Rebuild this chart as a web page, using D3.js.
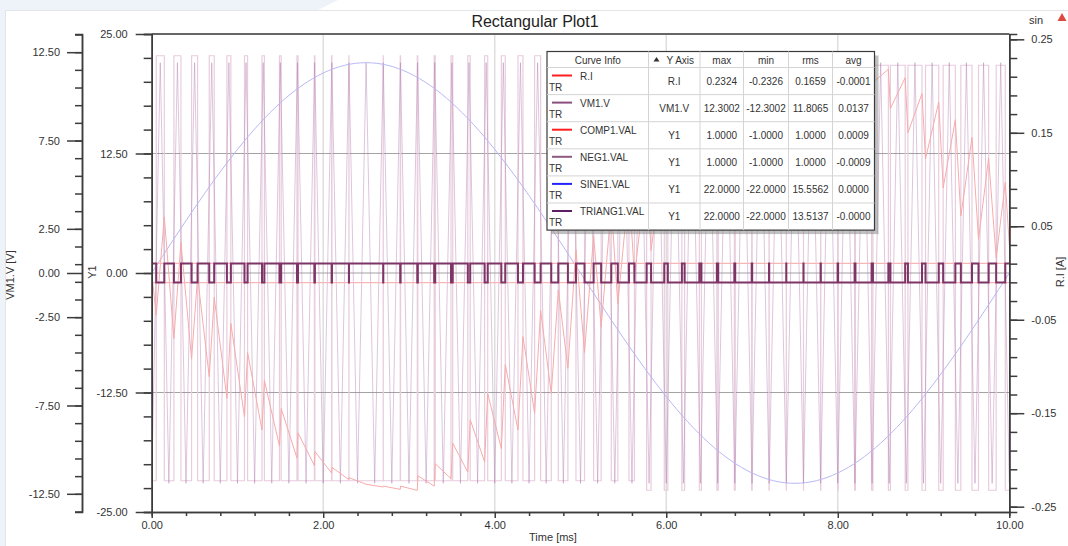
<!DOCTYPE html>
<html>
<head>
<meta charset="utf-8">
<script src="https://cdn.jsdelivr.net/npm/d3@7"></script>
<style>
  html, body { margin: 0; padding: 0; background: #fff; }
  svg { display: block; font-family: 'Liberation Sans', Arial, sans-serif; }
</style>
</head>
<body>
<script>
// config
const config = {
  width: 1068,
  height: 546,
  left: 151.7, // x of 0.00 ms, also the Y1 axis
  right: 1009.3, // x of 10.00 ms, also the R.I axis
  top: 34,
  bottom: 512,
  vmAxisX: 82,
  axisColor: '#3c3c3c',
  textColor: '#333',
  vmColor: '#e8cddd',
  triColor: '#ad78ad',
  sineColor: '#b8b8f5',
  riColor: '#f8abab',
  compColor: '#f6b6b6',
  negColor: '#7e3466',
  legendFont: '10px',
};

// time axis (ms)
const xMajor = [0, 2, 4, 6, 8, 10];
const xMinor = [0.4, 0.8, 1.2, 1.6, 2.4, 2.8, 3.2, 3.6, 4.4, 4.8, 5.2, 5.6, 6.4, 6.8, 7.2, 7.6, 8.4, 8.8, 9.2, 9.6];

// tick labels of the three y axes
const vmMajor = [12.5, 7.5, 2.5, 0, -2.5, -7.5, -12.5];
const y1Major = [25, 12.5, 0, -12.5, -25];
const riMajor = [0.25, 0.15, 0.05, -0.05, -0.15, -0.25];

// SINE1.VAL read every 0.5 ms
const sineTimes = [0, 0.5, 1, 1.5, 2, 2.5, 3, 3.5, 4, 4.5, 5, 5.5, 6, 6.5, 7, 7.5, 8, 8.5, 9, 9.5, 10];
const sineValues = [0, 6.80, 12.93, 17.80, 20.92, 22.00, 20.92, 17.80, 12.93, 6.80, 0, -6.80, -12.93, -17.80, -20.92, -22.00, -20.92, -17.80, -12.93, -6.80, 0];

// TRIANG1.VAL corners
const triangTimes = [0, 0.1, 0.2, 0.3, 0.4, 0.5, 0.6, 0.7, 0.8, 0.9, 1, 1.1, 1.2, 1.3, 1.4, 1.5, 1.6, 1.7, 1.8, 1.9,
  2, 2.1, 2.2, 2.3, 2.4, 2.5, 2.6, 2.7, 2.8, 2.9, 3, 3.1, 3.2, 3.3, 3.4, 3.5, 3.6, 3.7, 3.8, 3.9,
  4, 4.1, 4.2, 4.3, 4.4, 4.5, 4.6, 4.7, 4.8, 4.9, 5, 5.1, 5.2, 5.3, 5.4, 5.5, 5.6, 5.7, 5.8, 5.9,
  6, 6.1, 6.2, 6.3, 6.4, 6.5, 6.6, 6.7, 6.8, 6.9, 7, 7.1, 7.2, 7.3, 7.4, 7.5, 7.6, 7.7, 7.8, 7.9,
  8, 8.1, 8.2, 8.3, 8.4, 8.5, 8.6, 8.7, 8.8, 8.9, 9, 9.1, 9.2, 9.3, 9.4, 9.5, 9.6, 9.7, 9.8, 9.9, 10];
const triangValues = [-22, 22, -22, 22, -22, 22, -22, 22, -22, 22, -22, 22, -22, 22, -22, 22, -22, 22, -22, 22,
  -22, 22, -22, 22, -22, 22, -22, 22, -22, 22, -22, 22, -22, 22, -22, 22, -22, 22, -22, 22,
  -22, 22, -22, 22, -22, 22, -22, 22, -22, 22, -22, 22, -22, 22, -22, 22, -22, 22, -22, 22,
  -22, 22, -22, 22, -22, 22, -22, 22, -22, 22, -22, 22, -22, 22, -22, 22, -22, 22, -22, 22,
  -22, 22, -22, 22, -22, 22, -22, 22, -22, 22, -22, 22, -22, 22, -22, 22, -22, 22, -22, 22, -22];

// switching instants (ms) of the bridge: VM1.V goes high at pwmRise, low at pwmFall
const pwmRise = [0.053, 0.259, 0.465, 0.671, 0.877, 1.082, 1.286, 1.490, 1.694, 1.897, 2.098, 2.2995, 2.5, 2.6995, 2.898,
  3.097, 3.294, 3.490, 3.686, 3.882, 4.077, 4.271, 4.465, 4.659, 4.853, 5.047, 5.241, 5.435, 5.629, 5.823,
  6.018, 6.214, 6.410, 6.606, 6.804, 7.002, 7.2005, 7.4, 7.6005, 7.802, 8.004, 8.206, 8.410, 8.614, 8.818,
  9.023, 9.229, 9.435, 9.641, 9.847];
const pwmFall = [0.147, 0.341, 0.535, 0.729, 0.923, 1.118, 1.314, 1.510, 1.706, 1.903, 2.102, 2.3005, 2.5, 2.7005, 2.902,
  3.103, 3.306, 3.510, 3.714, 3.918, 4.123, 4.329, 4.535, 4.741, 4.947, 5.153, 5.359, 5.565, 5.771, 5.977,
  6.182, 6.386, 6.590, 6.794, 6.996, 7.198, 7.3995, 7.6, 7.7995, 7.998, 8.196, 8.394, 8.590, 8.786, 8.982,
  9.177, 9.371, 9.565, 9.759, 9.953];

// VM1.V level during each high pulse, and during each low stretch (one before every pulse, one after the last)
const vmHigh = [12.30, 12.30, 12.30, 12.30, 12.30, 12.30, 12.30, 12.30, 12.30, 12.30, 12.30, 12.30, 12.30, 12.30, 12.30,
  12.30, 12.30, 12.30, 12.30, 12.30, 12.30, 12.30, 12.30, 12.30, 12.30, 12.30, 12.30, 12.30, 11.76, 11.76,
  11.76, 11.76, 11.76, 11.76, 11.76, 11.76, 11.76, 11.76, 11.76, 11.76, 11.76, 11.76, 11.76, 11.76, 11.76,
  11.76, 11.76, 11.76, 11.76, 11.76];
const vmLow = [-11.76, -11.76, -11.76, -11.76, -11.76, -11.76, -11.76, -11.76, -11.76, -11.76, -11.76, -11.76, -11.76,
  -11.76, -11.76, -11.76, -11.76, -11.76, -11.76, -11.76, -11.76, -11.76, -11.76, -11.76, -11.76, -11.76,
  -11.76, -11.76, -11.76, -12.30, -12.30, -12.30, -12.30, -12.30, -12.30, -12.30, -12.30, -12.30, -12.30,
  -12.30, -12.30, -12.30, -12.30, -12.30, -12.30, -12.30, -12.30, -12.30, -12.30, -12.30, -12.30];

// R.I (A) at every rise and every fall, plus the ends
const riStart = 0;
const riEnd = 0.030;
const riAtRise = [-0.045, -0.070, -0.092, -0.111, -0.134, -0.154, -0.168, -0.185, -0.198, -0.206, -0.214, -0.221, -0.226,
  -0.229, -0.2315, -0.2326, -0.228, -0.220, -0.213, -0.202, -0.188, -0.168, -0.150, -0.129, -0.102, -0.085,
  -0.058, -0.033, -0.004, 0.024, 0.056, 0.090, 0.120, 0.148, 0.173, 0.194, 0.210, 0.220, 0.226, 0.228,
  0.227, 0.217, 0.204, 0.176, 0.150, 0.122, 0.091, 0.061, 0.036, 0.016];
const riAtFall = [0.060, 0.033, -0.004, -0.026, -0.054, -0.085, -0.115, -0.145, -0.171, -0.191, -0.208, -0.219, -0.226,
  -0.228, -0.228, -0.217, -0.204, -0.182, -0.157, -0.129, -0.098, -0.068, -0.040, -0.018, 0.025, 0.040,
  0.072, 0.092, 0.111, 0.134, 0.154, 0.168, 0.185, 0.198, 0.206, 0.214, 0.221, 0.226, 0.229, 0.231,
  0.2324, 0.228, 0.218, 0.209, 0.192, 0.183, 0.164, 0.145, 0.123, 0.097];

// legend table
const curveNames = ['R.I', 'VM1.V', 'COMP1.VAL', 'NEG1.VAL', 'SINE1.VAL', 'TRIANG1.VAL'];
const curveColors = ['#ff1f1f', '#8a4f7e', '#ff1f1f', '#8f5a82', '#2323ff', '#5e1f62'];
const curveAxis = ['R.I', 'VM1.V', 'Y1', 'Y1', 'Y1', 'Y1'];
const curveMax = ['0.2324', '12.3002', '1.0000', '1.0000', '22.0000', '22.0000'];
const curveMin = ['-0.2326', '-12.3002', '-1.0000', '-1.0000', '-22.0000', '-22.0000'];
const curveRms = ['0.1659', '11.8065', '1.0000', '1.0000', '15.5562', '13.5137'];
const curveAvg = ['-0.0001', '0.0137', '0.0009', '-0.0009', '0.0000', '-0.0000'];

// scales
const x = d3.scaleLinear().domain([0, 10]).range([config.left, config.right]);
const yVM = d3.scaleLinear().domain([-13.53, 13.53]).range([config.bottom, config.top]);
const yY1 = d3.scaleLinear().domain([-25, 25]).range([config.bottom, config.top]);
const yRI = d3.scaleLinear().domain([-0.2557, 0.2557]).range([config.bottom, config.top]);

// plain hyphen as minus sign, like the original tool
const locale = d3.formatLocale({ decimal: '.', thousands: ',', grouping: [3], currency: ['', ''], minus: '-' });
const fmt2 = locale.format('.2f');

// minor tick lists for the y axes
function steps(from, to, step) {
  let out = [];
  for (let v = from; v >= to - 1e-9; v -= step) out.push(+v.toFixed(4));
  return out;
}

// step points of VM1.V
function vmPoints() {
  let pts = [[0, vmLow[0]]];
  pwmRise.forEach((r, i) => {
    if (pwmFall[i] - r <= 0) return;
    pts.push([r, vmLow[i]], [r, vmHigh[i]], [pwmFall[i], vmHigh[i]], [pwmFall[i], vmLow[i + 1]]);
  });
  pts.push([10, vmLow[vmLow.length - 1]]);
  return pts;
}

// step points of NEG1.VAL (+1 while VM1 low) or COMP1.VAL (sign = -1)
function logicPoints(sign) {
  let pts = [[0, sign]];
  pwmRise.forEach((r, i) => {
    if (pwmFall[i] - r <= 0) return;
    pts.push([r, sign], [r, -sign], [pwmFall[i], -sign], [pwmFall[i], sign]);
  });
  pts.push([10, sign]);
  return pts;
}

function riPoints() {
  let pts = [[0, riStart]];
  pwmRise.forEach((r, i) => {
    pts.push([r, riAtRise[i]], [pwmFall[i], riAtFall[i]]);
  });
  pts.push([10, riEnd]);
  return pts;
}

// setup
const svg = d3.select('body').append('svg')
  .attr('width', config.width)
  .attr('height', config.height);

// page background and panel
svg.append('rect').attr('width', config.width).attr('height', config.height).attr('fill', '#ffffff');
svg.append('path')
  .attr('d', 'M0 0 L338 0 L318 10 L5 10 L5 546 L0 546 Z')
  .attr('fill', '#eef3f9');
svg.append('rect')
  .attr('x', 5.5).attr('y', 10.5)
  .attr('width', config.width).attr('height', config.height)
  .attr('fill', 'none').attr('stroke', '#e2e4e8');

svg.append('defs').append('clipPath').attr('id', 'plotClip')
  .append('rect')
  .attr('x', config.left).attr('y', config.top)
  .attr('width', config.right - config.left).attr('height', config.bottom - config.top);

// grid
const grid = svg.append('g');
grid.selectAll('.vgrid')
  .data([2, 4, 6, 8])
  .enter().append('line')
  .attr('x1', (d) => x(d)).attr('x2', (d) => x(d))
  .attr('y1', config.top).attr('y2', config.bottom)
  .attr('stroke', '#dedede').attr('stroke-width', 1.5);
grid.selectAll('.hgrid')
  .data([12.5, 0, -12.5])
  .enter().append('line')
  .attr('x1', config.left).attr('x2', config.right)
  .attr('y1', (d) => yY1(d)).attr('y2', (d) => yY1(d))
  .attr('stroke', '#a3a3a3').attr('stroke-width', 1);

// curves
const curves = svg.append('g').attr('clip-path', 'url(#plotClip)');

const lineVM = d3.line().x((d) => x(d[0])).y((d) => yVM(d[1]));
const lineY1 = d3.line().x((d) => x(d[0])).y((d) => yY1(d[1]));
const lineRI = d3.line().x((d) => x(d[0])).y((d) => yRI(d[1]));
const lineSine = d3.line().x((d) => x(d[0])).y((d) => yY1(d[1])).curve(d3.curveNatural);

curves.append('path')
  .attr('d', lineVM(vmPoints()))
  .attr('fill', 'none').attr('stroke', config.vmColor).attr('stroke-width', 1.2);

curves.append('path')
  .attr('d', lineY1(triangTimes.map((t, i) => [t, triangValues[i]])))
  .attr('fill', 'none').attr('stroke', config.triColor).attr('stroke-width', 1)
  .attr('stroke-opacity', 0.42);

curves.append('path')
  .attr('d', lineSine(sineTimes.map((t, i) => [t, sineValues[i]])))
  .attr('fill', 'none').attr('stroke', config.sineColor).attr('stroke-width', 1);

curves.append('path')
  .attr('d', lineRI(riPoints()))
  .attr('fill', 'none').attr('stroke', config.riColor).attr('stroke-width', 1);

curves.append('path')
  .attr('d', lineY1(logicPoints(-1)))
  .attr('fill', 'none').attr('stroke', config.compColor).attr('stroke-width', 1.2);

curves.append('path')
  .attr('d', lineY1(logicPoints(1)))
  .attr('fill', 'none').attr('stroke', config.negColor).attr('stroke-width', 2)
  .attr('stroke-linejoin', 'miter');

// frame top
svg.append('line')
  .attr('x1', config.left).attr('x2', config.right)
  .attr('y1', config.top).attr('y2', config.top)
  .attr('stroke', '#666').attr('stroke-width', 2);

// axes
function styleAxis(g) {
  g.selectAll('.domain').attr('stroke', config.axisColor).attr('stroke-width', 1.5);
  g.selectAll('.tick line').attr('stroke', config.axisColor).attr('stroke-width', 1.5);
  g.selectAll('.tick text').attr('fill', config.textColor).style('font-size', '11px')
    .style('font-family', "'Liberation Sans', Arial, sans-serif");
}

// VM1.V axis (far left)
svg.append('g')
  .attr('transform', `translate(${config.vmAxisX},0)`)
  .call(d3.axisLeft(yVM).tickValues(steps(13.5, -13.5, 1)).tickSize(7).tickFormat(''))
  .call(styleAxis);
svg.append('g')
  .attr('transform', `translate(${config.vmAxisX},0)`)
  .call(d3.axisLeft(yVM).tickValues(vmMajor).tickSize(15).tickSizeOuter(0).tickPadding(7).tickFormat(fmt2))
  .call(styleAxis);

// Y1 axis
svg.append('g')
  .attr('transform', `translate(${config.left},0)`)
  .call(d3.axisLeft(yY1).tickValues(steps(25, -25, 2.5)).tickSize(8).tickFormat(''))
  .call(styleAxis);
svg.append('g')
  .attr('transform', `translate(${config.left},0)`)
  .call(d3.axisLeft(yY1).tickValues(y1Major).tickSize(16).tickSizeOuter(0).tickPadding(8).tickFormat(fmt2))
  .call(styleAxis);

// R.I axis (right)
svg.append('g')
  .attr('transform', `translate(${config.right},0)`)
  .call(d3.axisRight(yRI).tickValues(steps(0.25, -0.25, 0.02)).tickSize(8).tickFormat(''))
  .call(styleAxis);
svg.append('g')
  .attr('transform', `translate(${config.right},0)`)
  .call(d3.axisRight(yRI).tickValues(riMajor).tickSize(15).tickSizeOuter(0).tickPadding(7).tickFormat(fmt2))
  .call(styleAxis);

// time axis
svg.append('g')
  .attr('transform', `translate(0,${config.bottom})`)
  .call(d3.axisBottom(x).tickValues(xMinor).tickSize(4).tickFormat(''))
  .call(styleAxis);
svg.append('g')
  .attr('transform', `translate(0,${config.bottom})`)
  .call(d3.axisBottom(x).tickValues(xMajor).tickSize(6).tickSizeOuter(0).tickPadding(3).tickFormat(fmt2))
  .call(styleAxis);

// titles
svg.append('text')
  .attr('x', 535).attr('y', 27)
  .attr('text-anchor', 'middle')
  .style('font-size', '16px').attr('fill', '#222')
  .text('Rectangular Plot1');

svg.append('text')
  .attr('x', 553).attr('y', 541)
  .attr('text-anchor', 'middle')
  .style('font-size', '11px').attr('fill', config.textColor)
  .text('Time [ms]');

[['VM1.V [V]', 14, 275], ['Y1', 96, 272], ['R.I [A]', 1064, 272]].forEach((d) => {
  svg.append('text')
    .attr('transform', `translate(${d[1]},${d[2]}) rotate(-90)`)
    .attr('text-anchor', 'middle')
    .style('font-size', '11px').attr('fill', config.textColor)
    .text(d[0]);
});

svg.append('text')
  .attr('x', 1036).attr('y', 24)
  .attr('text-anchor', 'middle')
  .style('font-size', '11px').attr('fill', config.textColor)
  .text('sin');
svg.append('path')
  .attr('d', 'M1062 13 L1066.5 21 L1057.5 21 Z')
  .attr('fill', '#e0473f');

// legend table
const table = {
  x: 547, y: 51.5, headerH: 16, rowH: 27.1,
  cols: [547, 648.5, 700, 743.5, 788.5, 832.5, 874.5],
};
const legend = svg.append('g');
const tableH = table.headerH + table.rowH * curveNames.length;

legend.append('rect')
  .attr('x', table.x + 4).attr('y', table.y + 4)
  .attr('width', table.cols[6] - table.x).attr('height', tableH)
  .attr('fill', '#8c8c8c').attr('opacity', 0.55);
legend.append('rect')
  .attr('x', table.x).attr('y', table.y)
  .attr('width', table.cols[6] - table.x).attr('height', tableH)
  .attr('fill', '#fff').attr('stroke', '#3a3a3a').attr('stroke-width', 1.2);

// separators
legend.selectAll('.colLine')
  .data(table.cols.slice(1, 6))
  .enter().append('line')
  .attr('x1', (d) => d).attr('x2', (d) => d)
  .attr('y1', table.y).attr('y2', table.y + tableH)
  .attr('stroke', '#d4d4d4');
legend.selectAll('.rowLine')
  .data(d3.range(curveNames.length))
  .enter().append('line')
  .attr('x1', table.x).attr('x2', table.cols[6])
  .attr('y1', (d) => table.y + table.headerH + d * table.rowH)
  .attr('y2', (d) => table.y + table.headerH + d * table.rowH)
  .attr('stroke', '#d4d4d4');

const headers = ['Curve Info', 'Y Axis', 'max', 'min', 'rms', 'avg'];
headers.forEach((h, i) => {
  let cx = (table.cols[i] + table.cols[i + 1]) / 2 + (i === 1 ? 6 : 0);
  legend.append('text')
    .attr('x', cx).attr('y', table.y + 12)
    .attr('text-anchor', 'middle')
    .style('font-size', config.legendFont).attr('fill', '#333')
    .text(h);
});
legend.append('path')
  .attr('d', `M${table.cols[1] + 5} ${table.y + 10} l3 -4.5 l3 4.5 Z`)
  .attr('fill', '#333');

curveNames.forEach((name, i) => {
  let top = table.y + table.headerH + i * table.rowH;
  let mid = top + table.rowH / 2 + 3.5;
  legend.append('line')
    .attr('x1', 552).attr('x2', 572)
    .attr('y1', top + 8).attr('y2', top + 8)
    .attr('stroke', curveColors[i]).attr('stroke-width', 2);
  legend.append('text')
    .attr('x', 580).attr('y', top + 12)
    .style('font-size', config.legendFont).attr('fill', '#333')
    .text(name);
  legend.append('text')
    .attr('x', 549).attr('y', top + 23)
    .style('font-size', config.legendFont).attr('fill', '#333')
    .text('TR');
  [curveAxis[i], curveMax[i], curveMin[i], curveRms[i], curveAvg[i]].forEach((v, j) => {
    legend.append('text')
      .attr('x', (table.cols[j + 1] + table.cols[j + 2]) / 2)
      .attr('y', mid)
      .attr('text-anchor', 'middle')
      .style('font-size', config.legendFont).attr('fill', '#333')
      .text(v);
  });
});
</script>
</body>
</html>
